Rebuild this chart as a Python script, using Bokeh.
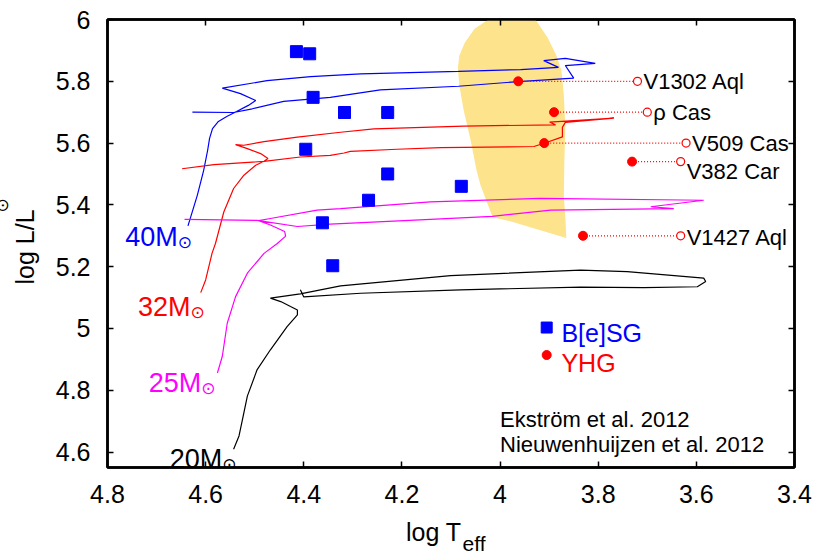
import math
from bokeh.plotting import figure
from bokeh.models import Range1d, FixedTicker, LinearAxis, CustomJSTickFormatter, Label, ColumnDataSource
from bokeh.core.properties import value
from bokeh.embed import file_html
from bokeh.resources import INLINE

# ---------------- data ----------------
t40_logT = [4.636, 4.617, 4.604, 4.596, 4.592, 4.586, 4.574, 4.557, 4.537, 4.513, 4.498, 4.529, 4.566,
            4.475, 4.386, 4.284, 4.085, 3.958, 3.881, 3.911, 3.867, 3.806, 3.867, 3.850, 3.963, 4.085,
            4.244, 4.346, 4.441, 4.505, 4.543, 4.627]
t40_logL = [5.332, 5.431, 5.512, 5.576, 5.615, 5.647, 5.670, 5.686, 5.702, 5.722, 5.738, 5.760, 5.778,
            5.802, 5.815, 5.824, 5.832, 5.838, 5.845, 5.867, 5.874, 5.858, 5.851, 5.810, 5.799, 5.784,
            5.772, 5.748, 5.735, 5.711, 5.699, 5.700]

t32_logT = [4.610, 4.600, 4.587, 4.580, 4.563, 4.543, 4.522, 4.498, 4.481, 4.473, 4.488, 4.515, 4.539,
            4.522, 4.481, 4.413, 4.325, 4.257, 4.074, 3.887, 3.899, 3.768, 3.867, 3.873, 3.873, 3.907,
            3.931, 4.121, 4.210, 4.305, 4.318, 4.346, 4.407, 4.481, 4.583, 4.648]
t32_logL = [5.116, 5.157, 5.243, 5.275, 5.377, 5.453, 5.496, 5.528, 5.541, 5.550, 5.566, 5.582, 5.595,
            5.593, 5.605, 5.619, 5.635, 5.646, 5.655, 5.659, 5.668, 5.681, 5.667, 5.651, 5.620, 5.601,
            5.589, 5.585, 5.580, 5.573, 5.568, 5.560, 5.555, 5.541, 5.530, 5.517]

t25_logT = [4.576, 4.566, 4.556, 4.539, 4.515, 4.481, 4.454, 4.437, 4.439, 4.468, 4.492, 4.468, 4.373,
            4.325, 4.142, 3.918, 3.585, 3.693, 3.646, 3.897, 4.016, 4.142, 4.346, 4.413, 4.495, 4.643]
t25_logL = [4.856, 4.910, 5.017, 5.103, 5.179, 5.243, 5.275, 5.299, 5.314, 5.335, 5.349, 5.356, 5.383,
            5.388, 5.410, 5.421, 5.415, 5.394, 5.388, 5.383, 5.363, 5.353, 5.338, 5.330, 5.350, 5.353]

t20_logT = [4.543, 4.532, 4.525, 4.515, 4.495, 4.468, 4.434, 4.413, 4.413, 4.427, 4.447, 4.468, 4.407,
            4.325, 4.101, 3.836, 3.741, 3.585, 3.581, 3.598, 3.707, 3.836, 4.081, 4.284, 4.400, 4.407]
t20_logL = [4.609, 4.652, 4.705, 4.781, 4.867, 4.931, 5.006, 5.044, 5.060, 5.071, 5.087, 5.098, 5.112,
            5.138, 5.171, 5.189, 5.184, 5.163, 5.152, 5.135, 5.132, 5.134, 5.125, 5.114, 5.102, 5.125]

track_names = ["40M", "32M", "25M", "20M"]
track_colors = ["#0000ff", "#ff0000", "#ff00ff", "#000000"]
track_label_x = [4.657, 4.631, 4.609, 4.566]
track_label_y = [5.296, 5.071, 4.825, 4.576]

void_logT = [4.024, 3.928, 3.903, 3.885, 3.875, 3.870, 3.867, 3.869, 3.870, 3.867, 3.865, 3.918,
             3.979, 4.015, 4.026, 4.040, 4.048, 4.060, 4.074, 4.083, 4.086, 4.083, 4.072, 4.052]
void_logL = [6.0, 6.0, 5.941, 5.883, 5.835, 5.754, 5.651, 5.544, 5.425, 5.360, 5.293, 5.318,
             5.347, 5.360, 5.405, 5.464, 5.512, 5.609, 5.705, 5.786, 5.844, 5.883, 5.925, 5.970]

bsg_logT = [4.415, 4.388, 4.381, 4.317, 4.229, 4.396, 4.229, 4.268, 4.362, 4.341, 4.079]
bsg_logL = [5.896, 5.889, 5.748, 5.699, 5.699, 5.580, 5.500, 5.415, 5.342, 5.203, 5.460]

yhg_names = ["V1302 Aql", "ρ Cas", "V509 Cas", "V382 Car", "V1427 Aql"]
yhg_logT = [3.963, 3.890, 3.910, 3.731, 3.831]
yhg_logL = [5.800, 5.700, 5.600, 5.540, 5.300]
yhg_label_logT = [3.720, 3.700, 3.621, 3.632, 3.632]
yhg_label_dy_px = [0, 0, 0, 10, 2]

x_ticks = [4.8, 4.6, 4.4, 4.2, 4.0, 3.8, 3.6, 3.4]
y_ticks = [4.6, 4.8, 5.0, 5.2, 5.4, 5.6, 5.8, 6.0]

FONT = "Liberation Sans"

# ---------------- figure ----------------
p = figure(width=818, height=556, output_backend="svg", toolbar_location=None,
           x_range=Range1d(4.8, 3.4), y_range=Range1d(4.55, 6.0),
           min_border_left=107, min_border_right=24, min_border_top=19, min_border_bottom=88)
p.xgrid.grid_line_color = None
p.ygrid.grid_line_color = None
p.outline_line_color = "black"
p.outline_line_width = 2.5
p.background_fill_color = "white"
p.border_fill_color = "white"

fmt = CustomJSTickFormatter(code="return String(Math.round(tick*10)/10);")
for ax, ticks in ((p.xaxis[0], x_ticks), (p.yaxis[0], y_ticks)):
    ax.ticker = FixedTicker(ticks=ticks)
    ax.formatter = fmt
    ax.major_tick_in = 6
    ax.major_tick_out = 0
    ax.minor_tick_line_color = None
    ax.axis_line_width = 2.5
    ax.major_tick_line_width = 1.5
    ax.major_label_text_font = FONT
    ax.major_label_text_font_size = "25px"
    ax.major_label_text_color = "black"
    ax.major_label_standoff = 17

blank = CustomJSTickFormatter(code="return '';")
top = LinearAxis(ticker=FixedTicker(ticks=x_ticks), formatter=blank, major_tick_in=6, major_tick_out=0,
                 minor_tick_line_color=None, axis_line_width=2.5, major_tick_line_width=1.5,
                 major_label_standoff=0)
right = LinearAxis(ticker=FixedTicker(ticks=y_ticks), formatter=blank, major_tick_in=6, major_tick_out=0,
                   minor_tick_line_color=None, axis_line_width=2.5, major_tick_line_width=1.5,
                   major_label_standoff=0)
p.add_layout(top, "above")
p.add_layout(right, "right")

p.patch(void_logT, void_logL, fill_color="#fde38b", line_color=None)

for tx, ty, c in ((t40_logT, t40_logL, track_colors[0]), (t32_logT, t32_logL, track_colors[1]),
                  (t25_logT, t25_logL, track_colors[2]), (t20_logT, t20_logL, track_colors[3])):
    p.line(tx, ty, line_color=c, line_width=1.2)

p.scatter(bsg_logT, bsg_logL, marker="square", size=12, fill_color="#0000ff", line_color="#0000ff")

p.segment(x0=yhg_logT, y0=yhg_logL, x1=yhg_label_logT, y1=yhg_logL, line_color="#ff0000",
          line_width=1.2, line_dash="1 2")
p.scatter(yhg_label_logT, yhg_logL, marker="circle", size=8, fill_color="white",
          line_color="#ff0000", line_width=1.2)
p.scatter(yhg_logT, yhg_logL, marker="circle", size=9, fill_color="#ff0000", line_color="#ff0000")

src = ColumnDataSource(dict(x=yhg_label_logT, y=yhg_logL, t=yhg_names, dy=yhg_label_dy_px))
p.text(x="x", y="y", text="t", source=src, x_offset=6, y_offset="dy", text_align="left",
       text_baseline="alphabetic", text_font=value(FONT), text_font_size="22px", text_color="black")

msrc = ColumnDataSource(dict(x=track_label_x, y=track_label_y, t=track_names, c=track_colors,
                             s=["⊙"] * len(track_names)))
p.text(x="x", y="y", text="t", source=msrc, text_align="right", text_baseline="alphabetic",
       text_font=value(FONT), text_font_size="27px", text_color="c")
p.text(x="x", y="y", text="s", source=msrc, text_align="left", text_baseline="alphabetic",
       x_offset=0, y_offset=5, text_font=value("DejaVu Sans"), text_font_size="17px", text_color="c")

p.scatter([3.905], [5.003], marker="square", size=11, fill_color="#0000ff", line_color="#0000ff")
p.scatter([3.905], [4.914], marker="circle", size=9, fill_color="#ff0000", line_color="#ff0000")
p.text(x=[3.875], y=[4.985], text=["B[e]SG"], text_align="left", text_baseline="alphabetic",
       text_font=value(FONT), text_font_size="25px", text_color="#0000ff")
p.text(x=[3.875], y=[4.888], text=["YHG"], text_align="left", text_baseline="alphabetic",
       text_font=value(FONT), text_font_size="25px", text_color="#ff0000")

p.text(x=[4.0, 4.0], y=[4.705, 4.625], text=["Ekström et al. 2012", "Nieuwenhuijzen et al. 2012"],
       text_align="left", text_baseline="alphabetic", text_font=value(FONT),
       text_font_size="22px", text_color="black")

# axis titles placed in the side panels (not clipped by the frame)
p.add_layout(Label(x=354, y=2, x_units="screen", y_units="screen", text="log T",
                   text_align="right", text_baseline="alphabetic",
                   text_font=FONT, text_font_size="25px", text_color="black"), "below")
p.add_layout(Label(x=355, y=13, x_units="screen", y_units="screen", text="eff",
                   text_align="left", text_baseline="alphabetic",
                   text_font=FONT, text_font_size="21px", text_color="black"), "below")
p.add_layout(Label(x=0, y=183, x_units="screen", y_units="screen", text="log L/L",
                   angle=math.pi / 2, text_align="left", text_baseline="alphabetic",
                   text_font=FONT, text_font_size="25px", text_color="black"), "left")
p.add_layout(Label(x=-3, y=255, x_units="screen", y_units="screen", text="⊙",
                   angle=math.pi / 2, text_align="left", text_baseline="alphabetic",
                   text_font="DejaVu Sans", text_font_size="17px", text_color="black"), "left")

open("out.html", "w").write(file_html(p, INLINE))
